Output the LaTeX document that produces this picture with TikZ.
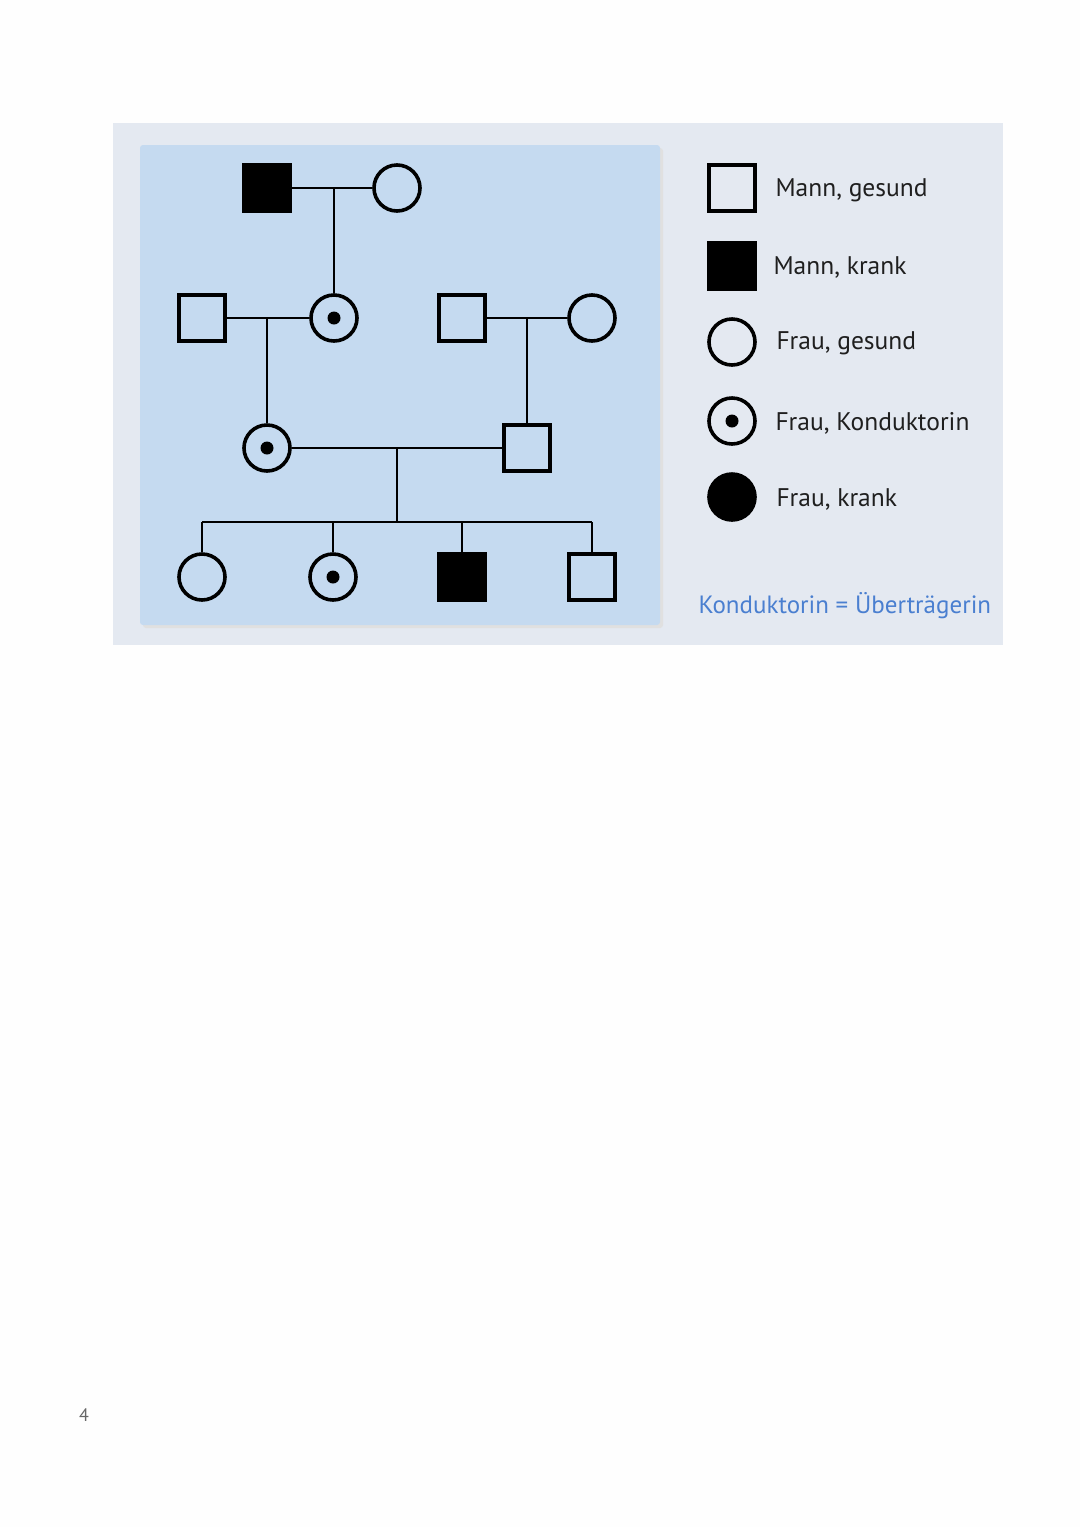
\documentclass[tikz,border=0pt]{standalone}
\usepackage{fontspec}
\setmainfont{PT Sans}
\begin{document}
\begin{tikzpicture}[x=1pt,y=-1pt,
  sq/.style={draw=black,line width=3.6pt,minimum size=46pt,inner sep=0pt,rectangle},
  sqf/.style={sq,fill=black},
  ci/.style={draw=black,line width=3.6pt,minimum size=46pt,inner sep=0pt,circle},
  cif/.style={ci,fill=black},
  cond/.style={ci,path picture={\fill[black] (path picture bounding box.center) circle (6.5pt);}},
  link/.style={line width=2pt,black},
  legtext/.style={anchor=west,font=\fontsize{25.5}{28}\selectfont,text=black!88}]
\useasboundingbox (0,0) rectangle (1080,1527);
\fill[white!99!gray] (0,0) rectangle (1080,1527);
% panels
\fill[fill={rgb,255:red,228;green,233;blue,241}] (113,123) rectangle (1003,645);
\fill[black!12,rounded corners=3pt] (143,148) rectangle (663,628);
\fill[fill={rgb,255:red,197;green,218;blue,240},rounded corners=3pt] (140,145) rectangle (660,625);
% generation 1
\node[sqf] (g1m) at (267,188) {};
\node[ci] (g1f) at (397,188) {};
% generation 2
\node[sq] (g2m1) at (202,318) {};
\node[cond] (g2f1) at (334,318) {};
\node[sq] (g2m2) at (462,318) {};
\node[ci] (g2f2) at (592,318) {};
% generation 3
\node[cond] (g3f) at (267,448) {};
\node[sq] (g3m) at (527,448) {};
% generation 4
\node[ci] (g4a) at (202,577) {};
\node[cond] (g4b) at (333,577) {};
\node[sqf] (g4c) at (462,577) {};
\node[sq] (g4d) at (592,577) {};
% coordinates
\coordinate (m1) at (334,188);
\coordinate (m2) at (267,318);
\coordinate (m3) at (527,318);
\coordinate (m4) at (397,448);
\coordinate (s0) at (397,522);
\coordinate (sa) at (202,522);
\coordinate (sb) at (333,522);
\coordinate (sc) at (462,522);
\coordinate (sd) at (592,522);
% connectors
\draw[link] (g1m.east) -- (g1f.west);
\draw[link] (m1) -- (g2f1.north);
\draw[link] (g2m1.east) -- (g2f1.west);
\draw[link] (g2m2.east) -- (g2f2.west);
\draw[link] (m2) -- (g3f.north);
\draw[link] (m3) -- (g3m.north);
\draw[link] (g3f.east) -- (g3m.west);
\draw[link] (m4) -- (s0);
\draw[link] (sa) -- (sd);
\draw[link] (sa) -- (g4a.north);
\draw[link] (sb) -- (g4b.north);
\draw[link] (sc) -- (g4c.north);
\draw[link] (sd) -- (g4d.north);
% legend
\node[sq] (l1) at (732,188) {};
\node[sqf] (l2) at (732,266) {};
\node[ci] (l3) at (732,342) {};
\node[cond] (l4) at (732,421) {};
\node[cif] (l5) at (732,497) {};
\node[legtext] (t1) at (772,190) {Mann, gesund};
\node[legtext] (t2) at (770,267) {Mann, krank};
\node[legtext] (t3) at (773,343) {Frau, gesund};
\node[legtext] (t4) at (772,423) {Frau, Konduktorin};
\node[legtext] (t5) at (773,499) {Frau, krank};
\node[anchor=west,font=\fontsize{25}{28}\selectfont,text={rgb,255:red,74;green,127;blue,208}] (note) at (695,606) {Konduktorin = Überträgerin};
% page number
\node[font=\fontsize{18}{20}\selectfont,text=black!60] (pg) at (84,1415) {4};
\end{tikzpicture}
\end{document}
